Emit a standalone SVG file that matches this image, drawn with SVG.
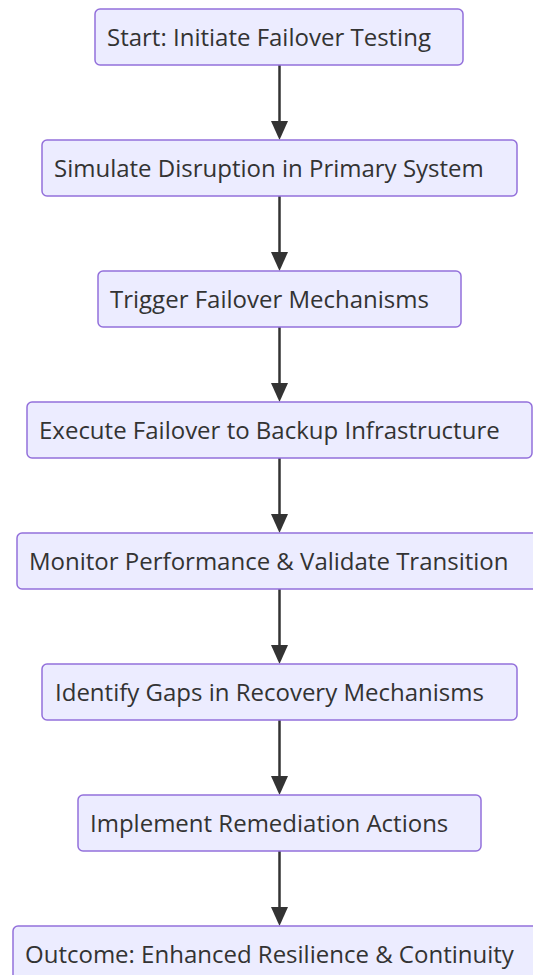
<svg xmlns="http://www.w3.org/2000/svg" width="533" height="975" viewBox="0 0 533 975">
<defs>
<style>
.node rect{fill:#ECECFF;stroke:#9370DB;stroke-width:1.5}
.node text{font-family:"Open Sans","Noto Sans",sans-serif;font-size:24px;fill:#333333}
.edge{stroke:#333333;stroke-width:2.5;fill:none}
.head{fill:#333333}
</style>
</defs>
<rect width="533" height="975" fill="#ffffff"/>
<g id="connectors">
<path class="edge" d="M279.5,65 V122"/><path class="head" d="M271,121 L288,121 L279.5,140 Z"/>
<path class="edge" d="M279.5,196 V253"/><path class="head" d="M271,252 L288,252 L279.5,271 Z"/>
<path class="edge" d="M279.5,327 V384"/><path class="head" d="M271,383 L288,383 L279.5,402 Z"/>
<path class="edge" d="M279.5,458 V515"/><path class="head" d="M271,514 L288,514 L279.5,533 Z"/>
<path class="edge" d="M279.5,589 V646"/><path class="head" d="M271,645 L288,645 L279.5,664 Z"/>
<path class="edge" d="M279.5,720 V777"/><path class="head" d="M271,776 L288,776 L279.5,795 Z"/>
<path class="edge" d="M279.5,851 V908"/><path class="head" d="M271,907 L288,907 L279.5,926 Z"/>
</g>
<g id="n1" class="node"><rect x="95" y="9" width="368" height="56" rx="5"/><text x="107" y="46">Start: Initiate Failover Testing</text></g>
<g id="n2" class="node"><rect x="42" y="140" width="475" height="56" rx="5"/><text x="54" y="177">Simulate Disruption in Primary System</text></g>
<g id="n3" class="node"><rect x="98" y="271" width="363" height="56" rx="5"/><text x="110" y="308">Trigger Failover Mechanisms</text></g>
<g id="n4" class="node"><rect x="27" y="402" width="505" height="56" rx="5"/><text x="39" y="439">Execute Failover to Backup Infrastructure</text></g>
<g id="n5" class="node"><rect x="17" y="533" width="525" height="56" rx="5"/><text x="29" y="570">Monitor Performance &amp; Validate Transition</text></g>
<g id="n6" class="node"><rect x="42" y="664" width="475" height="56" rx="5"/><text x="55" y="701">Identify Gaps in Recovery Mechanisms</text></g>
<g id="n7" class="node"><rect x="78" y="795" width="403" height="56" rx="5"/><text x="90" y="832">Implement Remediation Actions</text></g>
<g id="n8" class="node"><rect x="13" y="926" width="534" height="56" rx="5"/><text x="25" y="963">Outcome: Enhanced Resilience &amp; Continuity</text></g>
</svg>
